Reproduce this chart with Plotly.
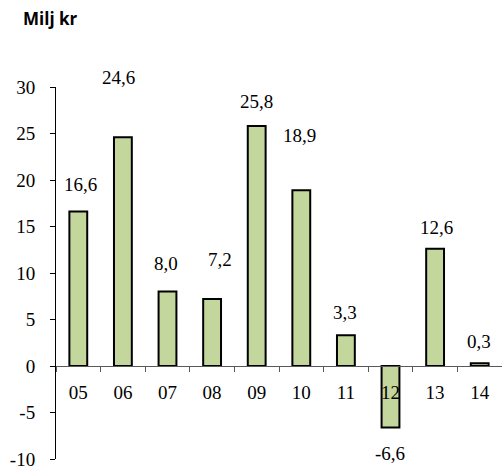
import plotly.graph_objects as go

categories = ["05", "06", "07", "08", "09", "10", "11", "12", "13", "14"]
values = [16.6, 24.6, 8.0, 7.2, 25.8, 18.9, 3.3, -6.6, 12.6, 0.3]
y_ticks = [-10, -5, 0, 5, 10, 15, 20, 25, 30]
# pixel offsets of each value label from its bar end, as in the reference
label_dy = [27, 60, 28, 40, 25, 55, 23, -26, 21, 22]
label_dx = [2, -4, -2, 8, 0, -2, -1, -1, 1, -1]

SERIF = "Liberation Serif"

fig = go.Figure()
fig.add_trace(go.Bar(
    x=categories, y=values, width=0.4,
    marker=dict(color="#C3D69B", line=dict(color="black", width=2)),
    cliponaxis=False,
))

for i, (v, dy, dx) in enumerate(zip(values, label_dy, label_dx)):
    fig.add_annotation(
        x=i, y=v, xref="x", yref="y", text=f"{v:.1f}".replace(".", ","),
        showarrow=False, xshift=dx, yshift=dy,
        font=dict(family=SERIF, size=19, color="black"),
    )

fig.update_layout(
    width=502, height=469,
    margin=dict(l=56, r=0, t=87, b=10),
    paper_bgcolor="white", plot_bgcolor="white",
    showlegend=False,
    title=dict(text="<b>Milj kr</b>", xref="container", yref="container",
               x=23 / 502, xanchor="left", y=1 - 19 / 469, yanchor="middle",
               font=dict(family="Open Sans", size=17, color="black")),
    font=dict(family=SERIF, size=19, color="black"),
)
fig.update_yaxes(
    range=[-10, 30], showgrid=False, zeroline=False,
    tickmode="array", tickvals=y_ticks, ticktext=[str(t) for t in y_ticks],
    showline=True, linecolor="black", linewidth=1,
    ticks="outside", ticklen=5, tickcolor="black",
    ticklabelstandoff=11, ticklabeloverflow="allow",
    tickfont=dict(family=SERIF, size=19, color="black"),
)
fig.update_xaxes(
    type="category", anchor="free", position=0.25,
    range=[-0.5, len(categories) - 0.5],
    showgrid=False, zeroline=False,
    showline=True, linecolor="#595959", linewidth=1,
    ticks="outside", ticklen=5, tickcolor="#595959", tickson="boundaries",
    ticklabelstandoff=9,
    tickfont=dict(family=SERIF, size=19, color="black"),
)

fig.write_html("out.html")
